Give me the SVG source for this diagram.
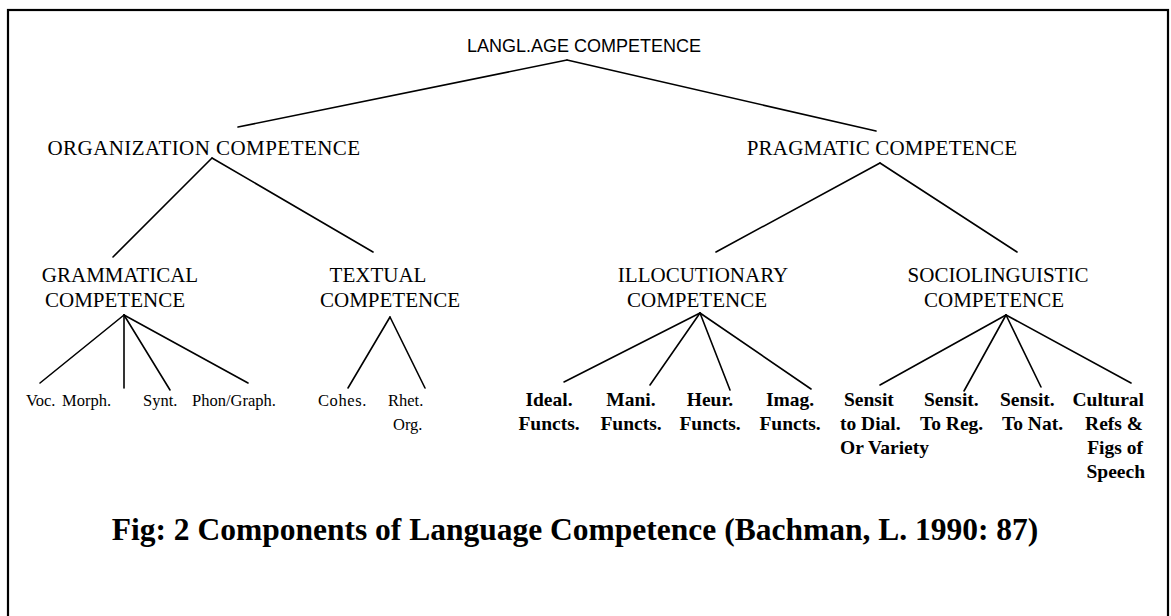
<svg xmlns="http://www.w3.org/2000/svg" width="1171" height="616" viewBox="0 0 1171 616">
<style>
.bg{fill:#fff}
.frame{fill:none;stroke:#000;stroke-width:2.2}
.edge{stroke:#000;stroke-width:1.6;fill:none;stroke-linecap:round}
.root{font-family:"Liberation Sans",Arial,sans-serif;font-size:18px;fill:#000}
.lbl{font-family:"Liberation Serif","Times New Roman",serif;font-size:21px;fill:#000;text-anchor:middle}
.leafL{font-family:"Liberation Serif","Times New Roman",serif;font-size:16.5px;fill:#000}
.leafR{font-family:"Liberation Serif","Times New Roman",serif;font-size:19.5px;font-weight:bold;fill:#000}
.cap{font-family:"Liberation Serif","Times New Roman",serif;font-size:31.5px;font-weight:bold;fill:#000;text-anchor:middle}
</style>
<rect class="bg" x="0" y="0" width="1171" height="616"/>
<rect class="frame" x="8" y="10" width="1160" height="620"/>
<g id="connectors">
<line class="edge" x1="567" y1="60" x2="238" y2="127"/>
<line class="edge" x1="567" y1="60" x2="876" y2="131"/>
<line class="edge" x1="212" y1="158" x2="113" y2="257"/>
<line class="edge" x1="212" y1="158" x2="373" y2="252"/>
<line class="edge" x1="880" y1="163" x2="716" y2="252"/>
<line class="edge" x1="880" y1="163" x2="1017" y2="252"/>
<line class="edge" x1="124" y1="315" x2="40" y2="383"/>
<line class="edge" x1="124" y1="315" x2="124" y2="388"/>
<line class="edge" x1="124" y1="315" x2="170" y2="390"/>
<line class="edge" x1="124" y1="315" x2="248" y2="383"/>
<line class="edge" x1="390" y1="317" x2="348" y2="388"/>
<line class="edge" x1="390" y1="317" x2="425" y2="388"/>
<line class="edge" x1="700" y1="313" x2="564" y2="382"/>
<line class="edge" x1="700" y1="313" x2="650" y2="385"/>
<line class="edge" x1="700" y1="313" x2="730" y2="390"/>
<line class="edge" x1="700" y1="313" x2="811" y2="389"/>
<line class="edge" x1="1006" y1="315" x2="880" y2="385"/>
<line class="edge" x1="1006" y1="315" x2="964" y2="391"/>
<line class="edge" x1="1006" y1="315" x2="1041" y2="387"/>
<line class="edge" x1="1006" y1="315" x2="1131" y2="383"/>
</g>
<g id="n-language"><text class="root" x="467" y="52">LANGL.AGE COMPETENCE</text></g>
<g id="n-organization"><text class="lbl" x="204" y="155" letter-spacing="0.45">ORGANIZATION COMPETENCE</text></g>
<g id="n-pragmatic"><text class="lbl" x="882" y="155" letter-spacing="0.2">PRAGMATIC COMPETENCE</text></g>
<g id="n-grammatical"><text class="lbl" x="120" y="282">GRAMMATICAL</text><text class="lbl" x="115" y="307">COMPETENCE</text></g>
<g id="n-textual"><text class="lbl" x="378" y="282">TEXTUAL</text><text class="lbl" x="390" y="307">COMPETENCE</text></g>
<g id="n-illocutionary"><text class="lbl" x="703" y="282">ILLOCUTIONARY</text><text class="lbl" x="697" y="307">COMPETENCE</text></g>
<g id="n-sociolinguistic"><text class="lbl" x="998" y="282">SOCIOLINGUISTIC</text><text class="lbl" x="994" y="307">COMPETENCE</text></g>
<g id="n-voc"><text class="leafL" x="26" y="406">Voc.</text></g>
<g id="n-morph"><text class="leafL" x="62" y="406">Morph.</text></g>
<g id="n-synt"><text class="leafL" x="143" y="406">Synt.</text></g>
<g id="n-phon"><text class="leafL" x="192" y="406">Phon/Graph.</text></g>
<g id="n-cohes"><text class="leafL" x="318" y="406" font-size="19" letter-spacing="0.6">Cohes.</text></g>
<g id="n-rhet"><text class="leafL" x="388" y="406" font-size="19">Rhet.</text><text class="leafL" x="393" y="430" font-size="19">Org.</text></g>
<g id="n-ideal"><text class="leafR" x="549" y="406" text-anchor="middle">Ideal.</text><text class="leafR" x="549" y="430" text-anchor="middle">Functs.</text></g>
<g id="n-mani"><text class="leafR" x="631" y="406" text-anchor="middle">Mani.</text><text class="leafR" x="631" y="430" text-anchor="middle">Functs.</text></g>
<g id="n-heur"><text class="leafR" x="710" y="406" text-anchor="middle">Heur.</text><text class="leafR" x="710" y="430" text-anchor="middle">Functs.</text></g>
<g id="n-imag"><text class="leafR" x="790" y="406" text-anchor="middle">Imag.</text><text class="leafR" x="790" y="430" text-anchor="middle">Functs.</text></g>
<g id="n-dial"><text class="leafR" x="844" y="406">Sensit</text><text class="leafR" x="840" y="430">to Dial.</text><text class="leafR" x="840" y="454">Or Variety</text></g>
<g id="n-reg"><text class="leafR" x="924" y="406">Sensit.</text><text class="leafR" x="920" y="430">To Reg.</text></g>
<g id="n-nat"><text class="leafR" x="1000" y="406">Sensit.</text><text class="leafR" x="1002" y="430">To Nat.</text></g>
<g id="n-cultural"><text class="leafR" x="1144" y="406" text-anchor="end">Cultural</text><text class="leafR" x="1143" y="430" text-anchor="end">Refs &amp;</text><text class="leafR" x="1143" y="454" text-anchor="end">Figs of</text><text class="leafR" x="1145" y="478" text-anchor="end">Speech</text></g>
<g id="caption"><text class="cap" x="575" y="540">Fig: 2 Components of Language Competence (Bachman, L. 1990: 87)</text></g>
</svg>
